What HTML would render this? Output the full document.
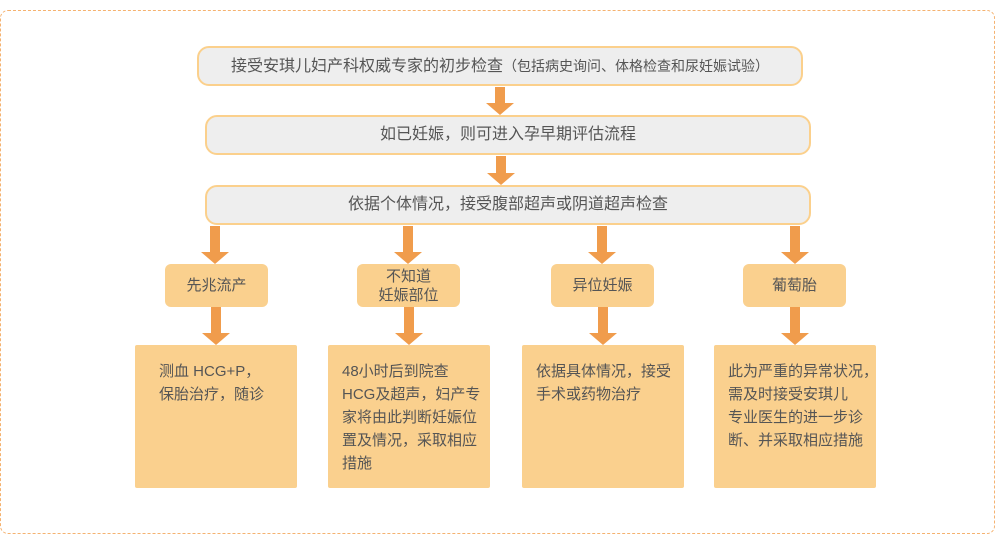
<!DOCTYPE html>
<html><head><meta charset="utf-8"><style>
body{margin:0;width:1000px;height:544px;background:#fff;position:relative;font-family:"Liberation Sans","Noto Sans CJK SC",sans-serif;color:#555;overflow:hidden}
.outer{position:absolute;left:0;top:10px;width:995px;height:524px;border:1px dashed #f5b270;border-radius:8px;box-sizing:border-box}
.g{position:absolute;background:#eee;border:2px solid #fbd08c;border-radius:12px;box-sizing:border-box;text-align:center;font-size:16px;line-height:36px;white-space:nowrap}
.s{position:absolute;background:#fad08e;border-radius:6px;text-align:center;font-size:15px;display:flex;align-items:center;justify-content:center;line-height:19px}
.b{position:absolute;background:#fad08e;border-radius:2px;font-size:15px;line-height:23px;box-sizing:border-box;padding:15px 6px 0 14px;white-space:nowrap}
.a{position:absolute;width:28px}
.a i{display:block;width:10px;margin:0 auto;background:#f09c4c}
.a b{display:block;width:0;height:0;border-left:14px solid transparent;border-right:14px solid transparent;border-top:12px solid #f09c4c}
</style></head><body>
<div class="outer"></div>
<div class="g" style="left:197px;top:46px;width:606px;height:40px">接受安琪儿妇产科权威专家的初步检查<span style="font-size:14px">（包括病史询问、体格检查和尿妊娠试验）</span></div>
<div class="g" style="left:205px;top:115px;width:606px;height:40px">如已妊娠，则可进入孕早期评估流程</div>
<div class="g" style="left:205px;top:185px;width:606px;height:40px">依据个体情况，接受腹部超声或阴道超声检查</div>
<div class="a" style="left:486px;top:87px"><i style="height:16px"></i><b></b></div>
<div class="a" style="left:487px;top:156px"><i style="height:17px"></i><b></b></div>
<div class="a" style="left:201px;top:226px"><i style="height:26px"></i><b></b></div>
<div class="a" style="left:394px;top:226px"><i style="height:26px"></i><b></b></div>
<div class="a" style="left:588px;top:226px"><i style="height:26px"></i><b></b></div>
<div class="a" style="left:781px;top:226px"><i style="height:26px"></i><b></b></div>
<div class="s" style="left:165px;top:264px;width:103px;height:43px">先兆流产</div>
<div class="s" style="left:357px;top:264px;width:103px;height:43px">不知道<br>妊娠部位</div>
<div class="s" style="left:551px;top:264px;width:103px;height:43px">异位妊娠</div>
<div class="s" style="left:743px;top:264px;width:103px;height:43px">葡萄胎</div>
<div class="a" style="left:202px;top:307px"><i style="height:26px"></i><b></b></div>
<div class="a" style="left:395px;top:307px"><i style="height:26px"></i><b></b></div>
<div class="a" style="left:589px;top:307px"><i style="height:26px"></i><b></b></div>
<div class="a" style="left:781px;top:307px"><i style="height:26px"></i><b></b></div>
<div class="b" style="left:135px;top:345px;width:162px;height:143px;padding-left:24px">测血 HCG+P，<br>保胎治疗，随诊</div>
<div class="b" style="left:328px;top:345px;width:162px;height:143px">48小时后到院查<br>HCG及超声，妇产专<br>家将由此判断妊娠位<br>置及情况，采取相应<br>措施</div>
<div class="b" style="left:522px;top:345px;width:162px;height:143px">依据具体情况，接受<br>手术或药物治疗</div>
<div class="b" style="left:714px;top:345px;width:162px;height:143px">此为严重的异常状况，<br>需及时接受安琪儿<br>专业医生的进一步诊<br>断、并采取相应措施</div>
</body></html>
